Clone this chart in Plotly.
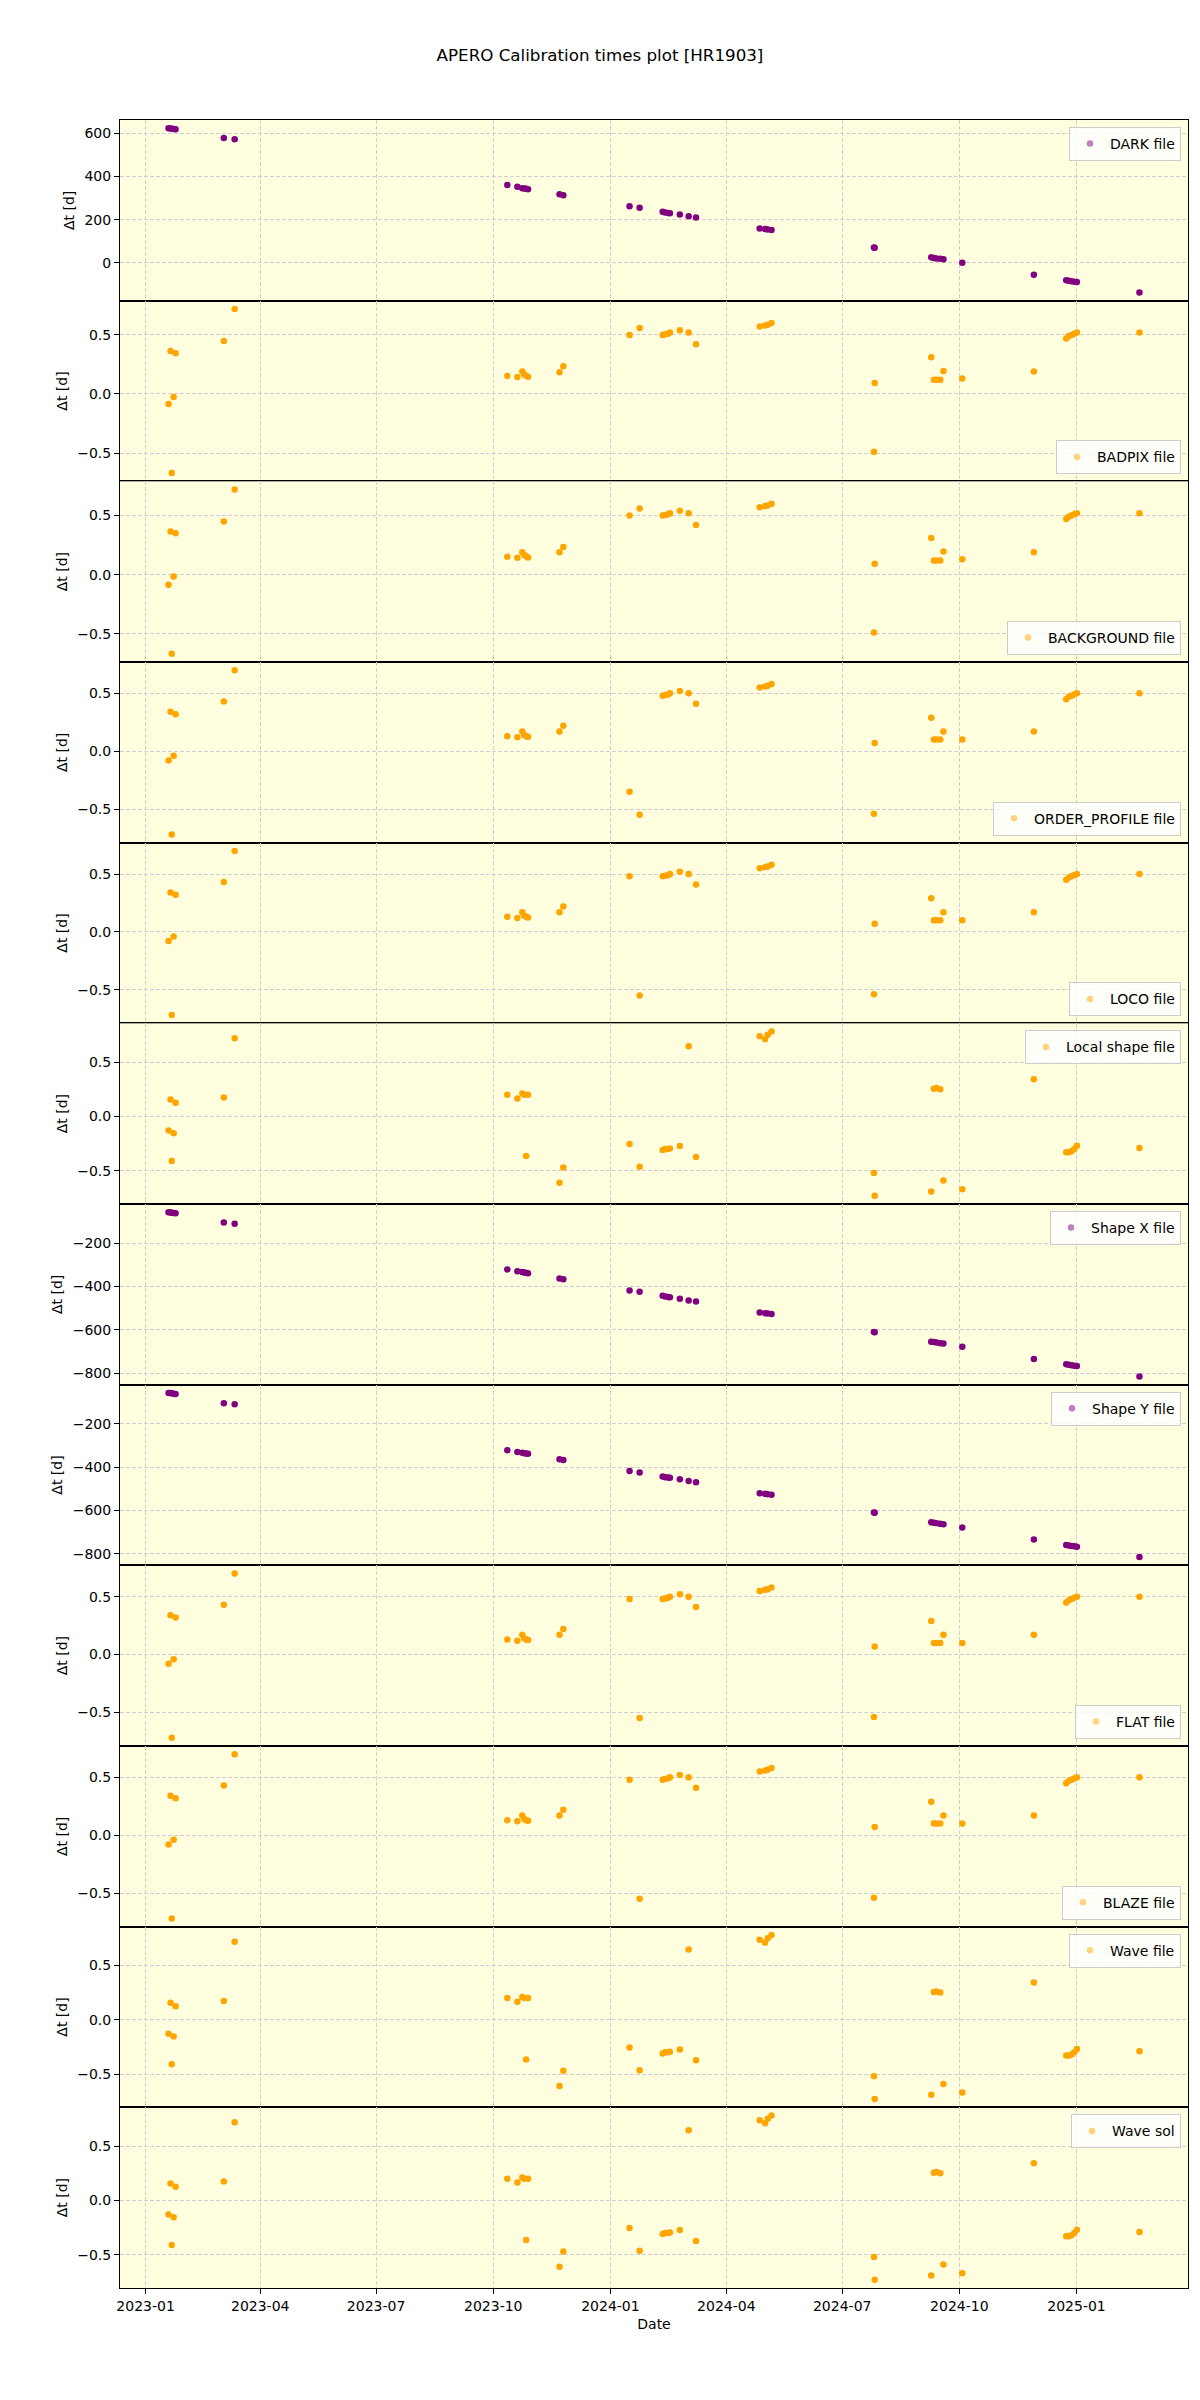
import plotly.graph_objects as go
from plotly.subplots import make_subplots
import pandas as pd

# Observation dates (read from the x positions of the points)
obs_dates = [
    "2023-01-19 00:00", "2023-01-20 14:00", "2023-01-21 12:00", "2023-01-23 00:00", "2023-01-24 12:00",
    "2023-03-03 10:00", "2023-03-11 22:00",
    "2023-10-12 00:00", "2023-10-19 22:00", "2023-10-23 19:00", "2023-10-25 07:00", "2023-10-26 19:00", "2023-10-28 07:00",
    "2023-11-22 00:00", "2023-11-25 00:00",
    "2024-01-16 00:00", "2024-01-23 22:00",
    "2024-02-11 00:00", "2024-02-13 00:00", "2024-02-15 05:00", "2024-02-16 17:00",
    "2024-02-24 12:00", "2024-03-02 10:00", "2024-03-08 05:00",
    "2024-04-27 05:00", "2024-05-01 10:00", "2024-05-03 12:00", "2024-05-06 12:00",
    "2024-07-25 22:00", "2024-07-26 12:00",
    "2024-09-08 22:00", "2024-09-11 00:00", "2024-09-13 00:00", "2024-09-16 00:00", "2024-09-18 12:00",
    "2024-10-03 07:00",
    "2024-11-28 12:00",
    "2024-12-23 22:00", "2024-12-26 00:00", "2024-12-28 00:00", "2024-12-30 05:00", "2025-01-01 07:00",
    "2025-02-19 10:00",
]

dark_dt = [624, 623, 622, 620, 619,
           579, 573,
           361, 352, 346, 344, 343, 341,
           318, 313,
           262, 255,
           236, 233, 231, 229,
           224, 216, 210,
           159, 156, 154, 152,
           70, 69,
           25, 22, 20, 18, 16,
           0,
           -56,
           -81, -84, -86, -88, -90,
           -138]

badpix_dt = [-0.085, 0.364, -0.67, -0.025, 0.344,
             0.449, 0.72,
             0.152, 0.143, 0.19, 0.165, 0.155, 0.145,
             0.183, 0.234,
             0.50, 0.559,
             0.50, 0.505, 0.51, 0.52,
             0.54, 0.52, 0.42,
             0.57, 0.58, 0.585, 0.60,
             -0.49, 0.093,
             0.31, 0.12, 0.12, 0.12, 0.195,
             0.13,
             0.19,
             0.47, 0.49, 0.50, 0.51, 0.52,
             0.52]

background_dt = [-0.085, 0.364, -0.67, -0.015, 0.35,
                 0.449, 0.72,
                 0.152, 0.143, 0.19, 0.165, 0.155, 0.145,
                 0.19, 0.234,
                 0.50, 0.559,
                 0.50, 0.505, 0.51, 0.52,
                 0.54, 0.52, 0.42,
                 0.57, 0.58, 0.585, 0.60,
                 -0.49, 0.093,
                 0.31, 0.12, 0.12, 0.12, 0.195,
                 0.13,
                 0.19,
                 0.47, 0.49, 0.50, 0.51, 0.52,
                 0.52]

order_profile_dt = [-0.08, 0.34, -0.72, -0.04, 0.32,
                    0.43, 0.70,
                    0.13, 0.12, 0.17, 0.14, 0.13, 0.125,
                    0.17, 0.22,
                    -0.35, -0.55,
                    0.48, 0.485, 0.49, 0.50,
                    0.52, 0.50, 0.41,
                    0.55, 0.56, 0.565, 0.58,
                    -0.54, 0.07,
                    0.29, 0.10, 0.10, 0.10, 0.17,
                    0.10,
                    0.17,
                    0.45, 0.47, 0.48, 0.49, 0.50,
                    0.50]

loco_dt = [-0.08, 0.34, -0.72, -0.04, 0.32,
           0.43, 0.70,
           0.13, 0.12, 0.17, 0.14, 0.13, 0.125,
           0.17, 0.22,
           0.48, -0.55,
           0.48, 0.485, 0.49, 0.50,
           0.52, 0.50, 0.41,
           0.55, 0.56, 0.565, 0.58,
           -0.54, 0.07,
           0.29, 0.10, 0.10, 0.10, 0.17,
           0.10,
           0.17,
           0.45, 0.47, 0.48, 0.49, 0.50,
           0.50]

local_shape_dt = [-0.13, 0.155, -0.41, -0.155, 0.125,
                  0.173, 0.718,
                  0.20, 0.165, 0.21, 0.20, -0.365, 0.20,
                  -0.61, -0.47,
                  -0.255, -0.464,
                  -0.31, -0.30, -0.30, -0.295,
                  -0.273, 0.645, -0.373,
                  0.736, 0.71, 0.75, 0.78,
                  -0.52, -0.73,
                  -0.69, 0.255, 0.26, 0.25, -0.59,
                  -0.67,
                  0.342,
                  -0.33, -0.33, -0.32, -0.30, -0.27,
                  -0.29]

shape_x_dt = [-56, -57, -58, -60, -61,
              -104, -109,
              -321, -329, -333, -335, -336, -338,
              -363, -366,
              -418, -424,
              -443, -446, -448, -449,
              -456, -464, -469,
              -520, -523, -525, -527,
              -610, -611,
              -655, -657, -659, -662, -664,
              -679,
              -735,
              -760, -762, -764, -766, -768,
              -816]

shape_y_dt = [-56, -57, -58, -60, -61,
              -104, -109,
              -321, -329, -333, -335, -336, -338,
              -363, -366,
              -418, -424,
              -443, -446, -448, -449,
              -456, -464, -469,
              -520, -523, -525, -527,
              -610, -611,
              -655, -657, -659, -662, -664,
              -679,
              -735,
              -760, -762, -764, -766, -768,
              -816]

flat_dt = list(loco_dt)
blaze_dt = list(loco_dt)
wave_file_dt = list(local_shape_dt)
wave_sol_dt = list(local_shape_dt)

panel_names = ["DARK file", "BADPIX file", "BACKGROUND file", "ORDER_PROFILE file",
               "LOCO file", "Local shape file", "Shape X file", "Shape Y file",
               "FLAT file", "BLAZE file", "Wave file", "Wave sol"]
panel_values = [dark_dt, badpix_dt, background_dt, order_profile_dt, loco_dt,
                local_shape_dt, shape_x_dt, shape_y_dt, flat_dt, blaze_dt,
                wave_file_dt, wave_sol_dt]
panel_colors = ["purple", "orange", "orange", "orange", "orange", "orange",
                "purple", "purple", "orange", "orange", "orange", "orange"]
legend_loc = ["upper", "lower", "lower", "lower", "lower", "upper",
              "upper", "upper", "lower", "lower", "upper", "upper"]

N = len(panel_names)
FONT = "DejaVu Sans"
OFF = 8  # page body margin
W, H = 1200 - OFF, 2400 - OFF
ML, MR, MT, MB = 120 - OFF, 12, 120 - OFF, 120 - OFF
plot_w = W - ML - MR
plot_h = H - MT - MB
panel_h = plot_h / N

fig = make_subplots(rows=N, cols=1, shared_xaxes=True, vertical_spacing=0)

x = pd.to_datetime(obs_dates)
xmin, xmax = x.min(), x.max()
xpad = (xmax - xmin) * 0.05
xrange = [xmin - xpad, xmax + xpad]

layout_legends = {}
for i in range(N):
    name = panel_names[i]
    vals = panel_values[i]
    col = panel_colors[i]
    lname = "legend" if i == 0 else f"legend{i+1}"
    fig.add_trace(go.Scatter(x=x, y=vals, mode="markers",
                             marker=dict(color=col, size=6.5, line=dict(width=0)),
                             showlegend=False, hoverinfo="skip"), row=i + 1, col=1)
    fig.add_trace(go.Scatter(x=[None], y=[None], mode="markers",
                             marker=dict(color=col, size=6.5, opacity=0.5, line=dict(width=0)),
                             name=name, showlegend=True, legend=lname), row=i + 1, col=1)
    if legend_loc[i] == "upper":
        ly = 1 - (panel_h * i + 7) / plot_h
        ya = "top"
    else:
        ly = 1 - (panel_h * (i + 1) - 7) / plot_h
        ya = "bottom"
    layout_legends[lname] = dict(
        x=(1181 - 120) / plot_w, xanchor="right", y=ly, yanchor=ya,
        bgcolor="rgba(255,255,255,0.8)", bordercolor="#cccccc", borderwidth=1,
        font=dict(family=FONT, size=14, color="black"),
    )
    lo, hi = min(vals), max(vals)
    pad = (hi - lo) * 0.05
    big = (hi - lo) > 10
    fig.update_yaxes(range=[lo - pad, hi + pad], dtick=200 if big else 0.5,
                     tick0=0, tickformat="d" if big else ".1f",
                     title=dict(text="Δt [d]", standoff=6,
                                font=dict(family=FONT, size=14, color="black")),
                     row=i + 1, col=1)

fig.update_yaxes(showline=True, linecolor="black", linewidth=1, mirror=True,
                 ticks="outside", ticklen=5, tickcolor="black",
                 tickfont=dict(family=FONT, size=14, color="black"),
                 showgrid=True, gridcolor="#cfcfd6", griddash="4px,2px", gridwidth=1,
                 zeroline=False)
fig.update_xaxes(showline=True, linecolor="black", linewidth=1, mirror=True,
                 range=xrange, type="date", tick0="2023-01-01", dtick="M3",
                 tickformat="%Y-%m",
                 showgrid=True, gridcolor="#cfcfd6", griddash="4px,2px", gridwidth=1,
                 zeroline=False, showticklabels=False, ticks="")
fig.update_xaxes(showticklabels=True, ticks="outside", ticklen=5, tickcolor="black",
                 tickfont=dict(family=FONT, size=14, color="black"),
                 title=dict(text="Date", standoff=6,
                            font=dict(family=FONT, size=14, color="black")),
                 row=N, col=1)

fig.update_layout(
    width=W, height=H,
    margin=dict(l=ML, r=MR, t=MT, b=MB),
    paper_bgcolor="white", plot_bgcolor="#FFFFE0",
    title=dict(text="APERO Calibration times plot [HR1903]", x=(600 - OFF) / W, xanchor="center",
               y=1 - (55 - OFF) / H, yanchor="middle",
               font=dict(family=FONT, size=16.7, color="black")),
    font=dict(family=FONT, size=14, color="black"),
    **layout_legends,
)

fig.write_html("out.html")
